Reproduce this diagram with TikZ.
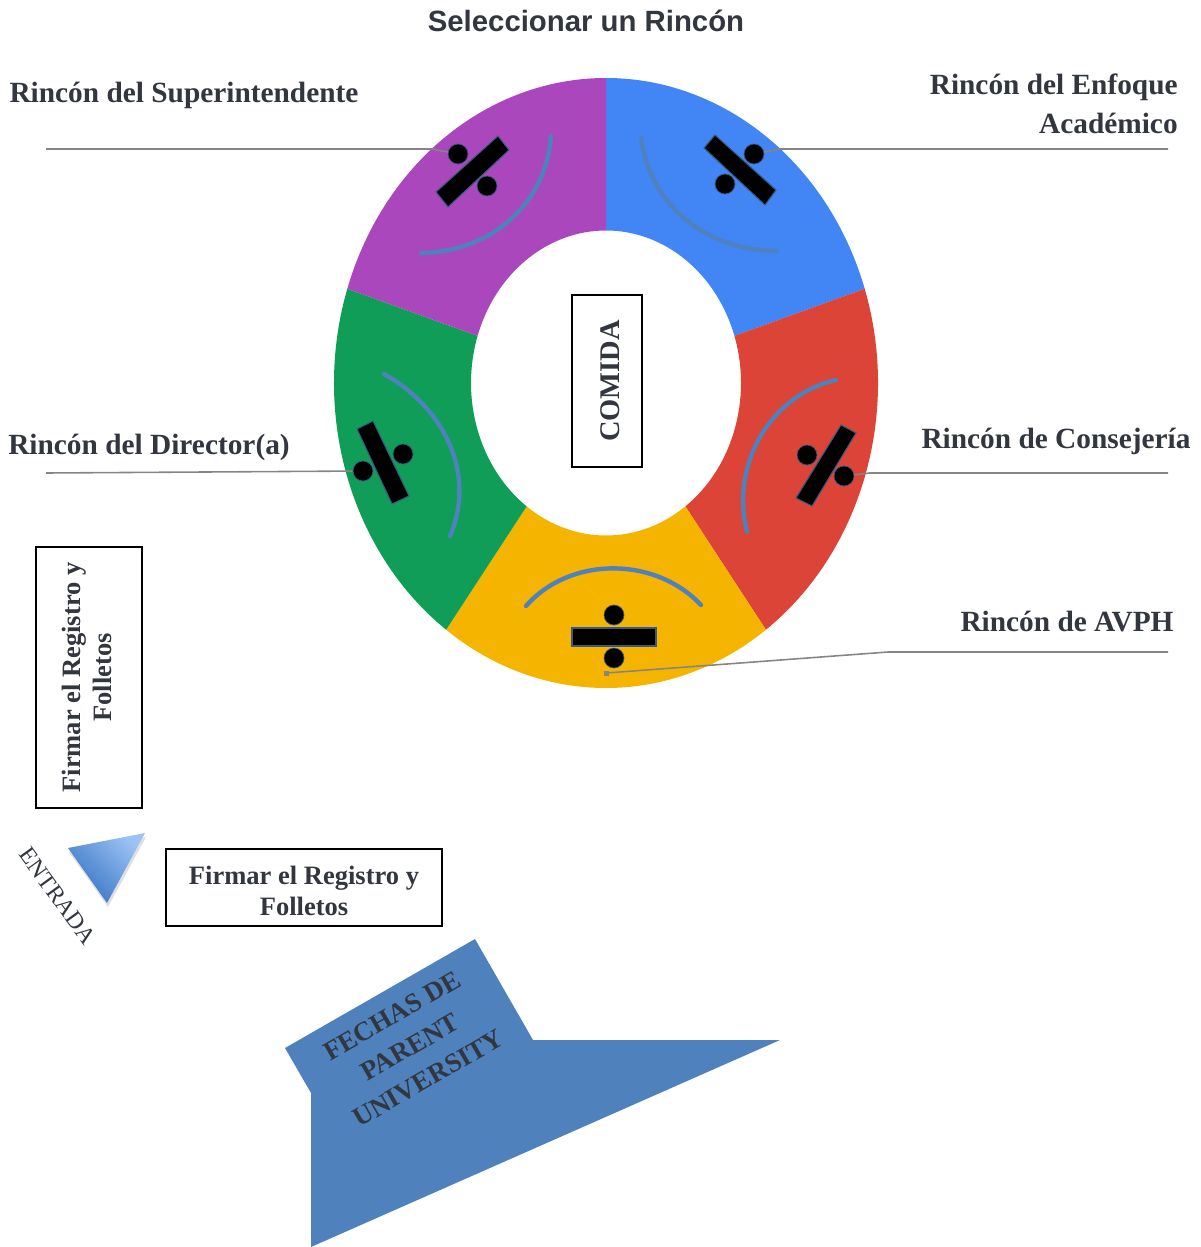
\documentclass[tikz,border=0pt]{standalone}
\usepackage{fontspec}
\setmainfont{Liberation Serif}
\newfontfamily\titlefont{Liberation Sans}
\usetikzlibrary{shadows}
\definecolor{inkdark}{HTML}{32363F}
\definecolor{sectorpurple}{HTML}{AB47BC}
\definecolor{sectorblue}{HTML}{4285F4}
\definecolor{sectorred}{HTML}{DB4437}
\definecolor{sectoryellow}{HTML}{F4B400}
\definecolor{sectorgreen}{HTML}{0F9D58}
\definecolor{officeblue}{HTML}{4F81BD}
\definecolor{leadergray}{HTML}{858585}
\definecolor{triangledark}{HTML}{3573C2}
\definecolor{trianglelight}{HTML}{9CC2F5}
\tikzset{
  cornerlabel/.style={text=inkdark,font=\fontsize{16.7}{22}\selectfont\bfseries,inner sep=0pt},
  framebox/.style={draw=black,line width=1.1pt,inner sep=0pt},
  boxtext/.style={text=inkdark,align=center,inner sep=0pt,font=\fontsize{15.1}{17.6}\selectfont\bfseries},
  dot/.style={circle,fill=black,draw=officeblue!70!black,line width=0.4pt,inner sep=0pt,minimum size=0.4cm},
  bar/.style={fill=black,draw=officeblue!70!black,line width=0.6pt},
  swoosh/.style={draw=officeblue,line width=2.5pt,line cap=round},
  leader/.style={draw=leadergray,line width=0.9pt}
}
\begin{document}
\begin{tikzpicture}[x=0.02cm,y=-0.02cm]
  \useasboundingbox (0,0) rectangle (1200,1247);

  \begin{scope}[shift={(606,383)},y=0.02cm]
    \fill[sectorblue] (90:272 and 305) arc[start angle=90,end angle=18,x radius=272,y radius=305] -- (18:135 and 152.5) arc[start angle=18,end angle=90,x radius=135,y radius=152.5] -- cycle;
    \fill[sectorred] (18:272 and 305) arc[start angle=18,end angle=-54,x radius=272,y radius=305] -- (-54:135 and 152.5) arc[start angle=-54,end angle=18,x radius=135,y radius=152.5] -- cycle;
    \fill[sectoryellow] (-54:272 and 305) arc[start angle=-54,end angle=-126,x radius=272,y radius=305] -- (-126:135 and 152.5) arc[start angle=-126,end angle=-54,x radius=135,y radius=152.5] -- cycle;
    \fill[sectorgreen] (-126:272 and 305) arc[start angle=-126,end angle=-198,x radius=272,y radius=305] -- (-198:135 and 152.5) arc[start angle=-198,end angle=-126,x radius=135,y radius=152.5] -- cycle;
    \fill[sectorpurple] (162:272 and 305) arc[start angle=162,end angle=90,x radius=272,y radius=305] -- (90:135 and 152.5) arc[start angle=90,end angle=162,x radius=135,y radius=152.5] -- cycle;
  \end{scope}

  \draw[swoosh] (551,136) .. controls (546,205) and (490,252) .. (421,253);
  \draw[swoosh] (641,138) .. controls (650,205) and (705,250) .. (776,251);
  \draw[swoosh] (384,374) .. controls (440,405) and (478,470) .. (450,536);
  \draw[swoosh] (836,380) .. controls (770,395) and (730,465) .. (747,532);
  \draw[swoosh] (526,606) .. controls (570,556) and (655,556) .. (701,605);

  \draw[bar] (498,136) -- (509,150) -- (448,207) -- (436,192) -- cycle;
  \draw[bar] (715,135) -- (704,148) -- (765,205) -- (776,190) -- cycle;
  \draw[bar] (373,421) -- (357,429) -- (392,504) -- (409,496) -- cycle;
  \draw[bar] (841,425) -- (856,433) -- (812,506) -- (796,498) -- cycle;
  \draw[bar] (572,628) rectangle (656,646);

  \node[dot] (dotsupA) at (458,154) {};
  \node[dot] (dotsupB) at (487,186) {};
  \node[dot] (dotenfA) at (754,154) {};
  \node[dot] (dotenfB) at (725,184) {};
  \node[dot] (dotdirA) at (403,454) {};
  \node[dot] (dotdirB) at (363,471) {};
  \node[dot] (dotconA) at (807,455) {};
  \node[dot] (dotconB) at (844,476) {};
  \node[dot] (dotavpA) at (614,615) {};
  \node[dot] (dotavpB) at (614,658) {};
  \node[fill=leadergray,inner sep=0pt,minimum size=0.1cm] (avpend) at (606,673) {};

  \coordinate (leadsup) at (46,149);
  \coordinate (bendsup) at (432,149);
  \coordinate (leadenf) at (1168,149);
  \coordinate (bendenf) at (780,149);
  \coordinate (leaddir) at (46,473);
  \coordinate (leadcon) at (1168,473);
  \coordinate (bendcon) at (870,473);
  \coordinate (leadavp) at (1168,652);
  \coordinate (bendavp) at (888,652);

  \draw[leader] (leadsup) -- (bendsup) -- (dotsupA);
  \draw[leader] (leadenf) -- (bendenf) -- (dotenfA);
  \draw[leader] (leaddir) -- (dotdirB);
  \draw[leader] (leadcon) -- (bendcon) -- (dotconB);
  \draw[leader] (leadavp) -- (bendavp) -- (avpend);

  \node[font=\titlefont\fontsize{16.7}{20}\selectfont\bfseries,text=inkdark,inner sep=0pt] (titulo) at (586,21) {Seleccionar un Rincón};
  \node[cornerlabel] (lblsup) at (184,95) {Rincón del Superintendente};
  \node[cornerlabel,align=right,anchor=east] (lblenf) at (1178,104) {Rincón del Enfoque\\Académico};
  \node[cornerlabel] (lbldir) at (149,447) {Rincón del Director(a)};
  \node[cornerlabel] (lblcon) at (1056,441) {Rincón de Consejería};
  \node[cornerlabel] (lblavp) at (1067,622) {Rincón de AVPH};

  \node[framebox,minimum width=1.4cm,minimum height=3.44cm] (comida) at (607,381) {};
  \node[rotate=90,text=inkdark,inner sep=0pt,font=\fontsize{16.2}{20}\selectfont\bfseries] (comidatxt) at (610,381) {COMIDA};
  \node[framebox,minimum width=2.12cm,minimum height=5.22cm] (firmavert) at (89,677.5) {};
  \node[boxtext,rotate=90] (firmaverttxt) at (87,677.5) {Firmar el Registro y\\Folletos};
  \node[framebox,minimum width=5.52cm,minimum height=1.54cm] (firmahor) at (304,887.5) {};
  \node[boxtext] (firmahortxt) at (304,891) {Firmar el Registro y\\Folletos};

  \shade[left color=triangledark,right color=trianglelight,shading angle=135,drop shadow={shadow xshift=0.02cm,shadow yshift=-0.08cm,opacity=0.25}] (68,848) -- (145,833) -- (107,903) -- cycle;
  \node[rotate=-54,text=inkdark,font=\fontsize{13.5}{17}\selectfont,inner sep=0pt] (entrada) at (58,896) {ENTRADA};

  \fill[officeblue] (475,939) -- (533,1040) -- (780,1040) -- (311,1247) -- (311,1093) -- (285,1048) -- cycle;
  \node[rotate=30,text=inkdark,align=center,font=\fontsize{15.3}{20.5}\selectfont\bfseries,inner sep=0pt] (fechas) at (410,1047) {FECHAS DE\\PARENT\\UNIVERSITY};
\end{tikzpicture}
\end{document}
